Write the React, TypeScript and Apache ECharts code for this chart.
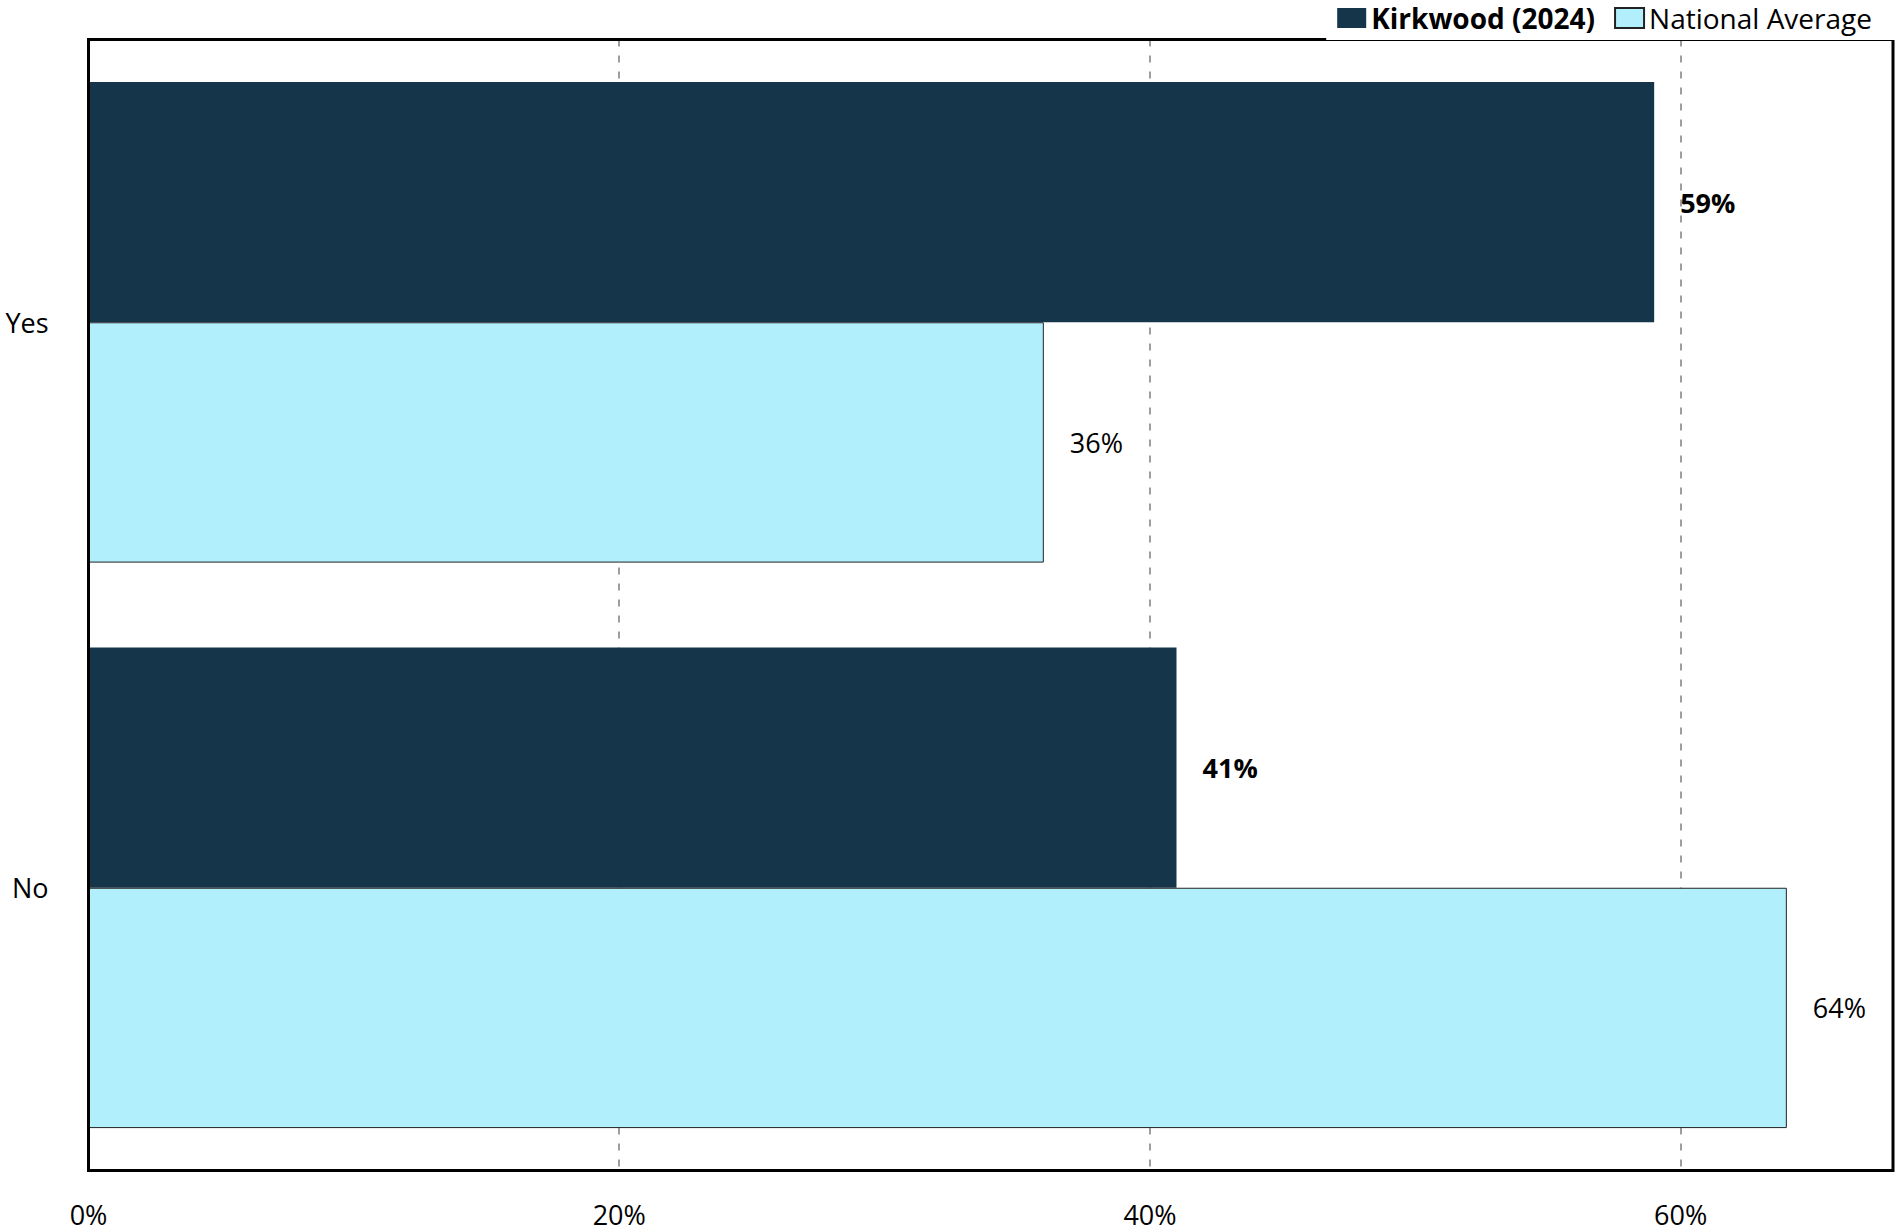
import React, { useEffect, useRef } from "react";
import * as echarts from "echarts";

const categories = ["Yes", "No"];
const kirkwoodValues = [59, 41];
const nationalValues = [36, 64];
const seriesNames = ["Kirkwood (2024)", "National Average"];
const xTicks = [0, 20, 40, 60];

const FONT = "'Open Sans', 'DejaVu Sans', sans-serif";

export default function App() {
  const ref = useRef<HTMLDivElement>(null);
  useEffect(() => {
    if (!ref.current) return;
    const chart = echarts.init(ref.current, undefined, { renderer: "svg" });
    chart.setOption({
      animation: false,
      backgroundColor: "#ffffff",
      textStyle: { fontFamily: FONT },
      legend: {
        right: 0,
        top: 0,
        padding: [4, 24, 8, 11],
        backgroundColor: "#ffffff",
        icon: "rect",
        itemWidth: 29,
        itemHeight: 20,
        itemGap: 19,
        z: 20,
        textStyle: { fontFamily: FONT, fontSize: 28, color: "#000" },
        data: [
          { name: seriesNames[0], textStyle: { fontWeight: "bold" } },
          { name: seriesNames[1] },
        ],
      },
      grid: {
        left: 88.5,
        right: 3,
        top: 39.5,
        bottom: 61.5,
        show: true,
        z: 10,
        borderColor: "#000",
        borderWidth: 3,
        backgroundColor: "transparent",
      },
      xAxis: {
        type: "value",
        min: 0,
        max: 68,
        interval: 20,
        axisLine: { show: false },
        axisTick: { show: false },
        axisLabel: {
          margin: 30,
          fontFamily: FONT,
          fontSize: 27,
          color: "#000",
          formatter: (v: number) => (xTicks.includes(v) ? `${v}%` : ""),
        },
        splitLine: {
          show: true,
          showMinLine: false,
          showMaxLine: false,
          lineStyle: { color: "#7f7f7f", width: 1.5, type: [7, 9] },
        },
      },
      yAxis: {
        type: "category",
        data: categories,
        inverse: true,
        axisLine: { show: false },
        axisTick: { show: false },
        axisLabel: {
          margin: 40,
          fontFamily: FONT,
          fontSize: 27,
          color: "#000",
        },
        splitLine: { show: false },
      },
      series: [
        {
          name: seriesNames[0],
          type: "bar",
          data: kirkwoodValues,
          barCategoryGap: "15%",
          barGap: "0%",
          itemStyle: { color: "#15364a", borderColor: "#15364a", borderWidth: 0 },
          label: {
            show: true,
            position: "right",
            distance: 26,
            formatter: "{c}%",
            fontFamily: FONT,
            fontSize: 27,
            fontWeight: "bold",
            color: "#000",
          },
        },
        {
          name: seriesNames[1],
          type: "bar",
          data: nationalValues,
          barCategoryGap: "15%",
          barGap: "0%",
          itemStyle: { color: "#b2effd", borderColor: "#222", borderWidth: 1 },
          label: {
            show: true,
            position: "right",
            distance: 26,
            formatter: "{c}%",
            fontFamily: FONT,
            fontSize: 27,
            color: "#000",
          },
        },
      ],
    });
    return () => chart.dispose();
  }, []);
  return (
    <div
      ref={ref}
      style={{ position: "fixed", left: 0, top: 0, width: 1896, height: 1232 }}
    />
  );
}
